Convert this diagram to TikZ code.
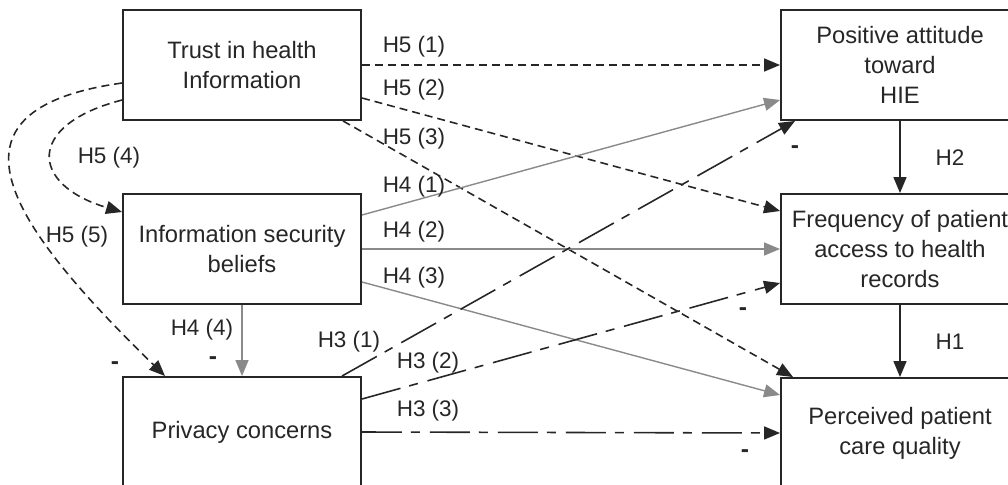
\documentclass[tikz,border=0pt]{standalone}
\usepackage{fontspec}
\setmainfont{Liberation Sans}
\usetikzlibrary{arrows.meta}
\definecolor{linegray}{HTML}{8A8A8A}
\definecolor{ink}{HTML}{262626}
\tikzset{
	box/.style={draw=ink, line width=1.1pt, minimum width=4.76cm, minimum height=2.2cm,
		inner sep=0pt, align=center, text=ink, font=\fontsize{13.5}{17}\selectfont},
	hyp/.style={text=ink, font=\fontsize{12.8}{15}\selectfont},
	neg/.style={text=ink, font=\fontsize{14}{15}\selectfont\bfseries},
	tip/.style={-{Triangle[length=0.32cm,width=0.26cm]}},
	trustline/.style={tip, draw=ink, line width=0.9pt, dash pattern=on 0.16cm off 0.1cm},
	beliefline/.style={tip, draw=linegray, line width=0.8pt},
	privline/.style={tip, draw=ink, line width=0.9pt, dash pattern=on 0.8cm off 0.18cm on 0.18cm off 0.2cm},
	mainline/.style={tip, draw=ink, line width=0.9pt}
}
\begin{document}
\begin{tikzpicture}[x=0.02cm,y=-0.02cm]
	
	\useasboundingbox (0,0) rectangle (1008,484);
	
	% Cajas
	\node[box] (trust) at (242,65) {Trust in health\\Information};
	\node[box] (security) at (242,249) {Information security\\beliefs};
	\node[box] (privacy) at (242,432) {Privacy concerns};
	\node[box] (attitude) at (900,65) {Positive attitude\\toward\\HIE};
	\node[box] (frequency) at (900,249) {Frequency of patient\\access to health\\records};
	\node[box] (quality) at (900,433) {Perceived patient\\care quality};
	
	% H5
	\draw[trustline] (trust.east) -- (attitude.west);
	\draw[trustline] ([yshift=-0.66cm]trust.east) -- ([yshift=0.76cm]frequency.west);
	\draw[trustline] ([xshift=2.02cm]trust.south) -- ([xshift=-2.14cm]quality.north);
	\draw[trustline] ([yshift=-0.7cm]trust.west) .. controls (25,125) and (30,185) .. ([yshift=0.74cm]security.west);
	\draw[trustline] ([yshift=-0.36cm]trust.west) .. controls (-70,110) and (10,225) .. ([xshift=-1.54cm]privacy.north);
	
	% H4
	\draw[beliefline] ([yshift=0.68cm]security.east) -- ([yshift=-0.7cm]attitude.west);
	\draw[beliefline] (security.east) -- (frequency.west);
	\draw[beliefline] ([yshift=-0.66cm]security.east) -- ([yshift=0.76cm]quality.west);
	\draw[beliefline] (security.south) -- (privacy.north);
	
	% H3
	\draw[privline] ([xshift=2cm]privacy.north) -- ([xshift=-2.1cm]attitude.south);
	\draw[privline] ([yshift=0.66cm]privacy.east) -- ([yshift=-0.68cm]frequency.west);
	\draw[privline] (privacy.east) -- (quality.west);
	
	% H2 y H1
	\draw[mainline] (attitude.south) -- (frequency.north);
	\draw[mainline] (frequency.south) -- (quality.north);
	
	% Etiquetas
	\node[hyp] at (414,47) {H5 (1)};
	\node[hyp] at (414,90) {H5 (2)};
	\node[hyp] at (414,139) {H5 (3)};
	\node[hyp] at (414,187) {H4 (1)};
	\node[hyp] at (414,232) {H4 (2)};
	\node[hyp] at (414,278) {H4 (3)};
	\node[hyp] at (109,158) {H5 (4)};
	\node[hyp] at (77,237) {H5 (5)};
	\node[hyp] at (202,330) {H4 (4)};
	\node[hyp] at (349,342) {H3 (1)};
	\node[hyp] at (428,363) {H3 (2)};
	\node[hyp] at (428,411) {H3 (3)};
	\node[hyp] at (950,158) {H2};
	\node[hyp] at (950,342) {H1};
	
	% Signos
	\node[neg] at (115,366) {-};
	\node[neg] at (213,361) {-};
	\node[neg] at (795,150) {-};
	\node[neg] at (743,312) {-};
	\node[neg] at (745,454) {-};
	
\end{tikzpicture}
\end{document}
